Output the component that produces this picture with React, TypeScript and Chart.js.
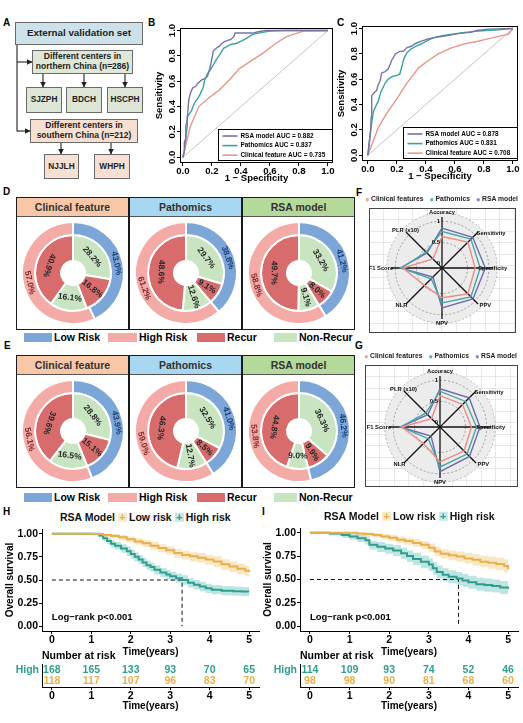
import React, { useEffect, useRef } from "react";
import { Chart, registerables } from "chart.js";

Chart.register(...registerables);

const FONT = "'Liberation Sans', Arial, Helvetica, sans-serif";
Chart.defaults.font.family = FONT;
Chart.defaults.color = "#000";

// ---------------- DATA ----------------
// ROC (1 - specificity, sensitivity)
const rocTicks = [0, 0.2, 0.4, 0.6, 0.8, 1.0];
const rocNames = ["RSA model", "Pathomics", "Clinical feature"];
const aucB = ["0.882", "0.837", "0.735"];
const aucC = ["0.878", "0.831", "0.708"];
const rocB_RSA = [[0,0],[0.01,0.05],[0.01,0.12],[0.02,0.15],[0.02,0.24],[0.03,0.3],[0.04,0.45],[0.05,0.5],[0.06,0.53],[0.07,0.55],[0.09,0.56],[0.1,0.58],[0.13,0.61],[0.15,0.62],[0.17,0.64],[0.18,0.68],[0.19,0.72],[0.2,0.78],[0.21,0.84],[0.23,0.86],[0.25,0.875],[0.27,0.9],[0.29,0.915],[0.33,0.93],[0.35,0.95],[0.36,0.98],[0.48,0.98],[0.52,0.99],[0.57,1.0],[1,1]];
const rocB_Path = [[0,0],[0.01,0.05],[0.02,0.15],[0.03,0.25],[0.03,0.32],[0.05,0.35],[0.06,0.37],[0.08,0.43],[0.1,0.46],[0.12,0.5],[0.14,0.55],[0.15,0.61],[0.17,0.66],[0.19,0.69],[0.21,0.73],[0.23,0.77],[0.26,0.82],[0.28,0.86],[0.33,0.89],[0.37,0.9],[0.41,0.92],[0.44,0.94],[0.48,0.97],[0.55,0.985],[0.6,0.995],[0.7,1.0],[1,1]];
const rocB_Clin = [[0,0],[0.05,0.24],[0.11,0.4],[0.18,0.47],[0.25,0.53],[0.32,0.61],[0.39,0.7],[0.47,0.76],[0.55,0.82],[0.63,0.89],[0.71,0.95],[0.83,0.995],[1,1]];
const rocC_RSA = [[0,0],[0.01,0.09],[0.02,0.2],[0.023,0.3],[0.027,0.47],[0.04,0.49],[0.06,0.51],[0.07,0.55],[0.085,0.59],[0.096,0.65],[0.12,0.66],[0.14,0.68],[0.155,0.72],[0.165,0.75],[0.19,0.8],[0.22,0.82],[0.245,0.82],[0.27,0.85],[0.3,0.86],[0.325,0.88],[0.37,0.9],[0.42,0.92],[0.47,0.93],[0.53,0.94],[0.62,0.96],[0.71,0.97],[0.75,0.985],[0.83,0.995],[1,1]];
const rocC_Path = [[0,0],[0.016,0.17],[0.03,0.28],[0.04,0.35],[0.06,0.4],[0.073,0.43],[0.09,0.5],[0.12,0.57],[0.14,0.6],[0.165,0.62],[0.2,0.63],[0.22,0.64],[0.235,0.7],[0.245,0.75],[0.26,0.79],[0.27,0.81],[0.3,0.84],[0.33,0.86],[0.37,0.88],[0.42,0.91],[0.46,0.93],[0.52,0.945],[0.58,0.955],[0.67,0.97],[0.76,0.98],[0.9,0.99],[1,1]];
const rocC_Clin = [[0,0],[0.073,0.22],[0.13,0.33],[0.19,0.43],[0.27,0.57],[0.35,0.69],[0.42,0.75],[0.485,0.8],[0.58,0.85],[0.67,0.88],[0.76,0.9],[0.87,0.93],[0.97,0.955],[1,1]];

// Doughnuts
const donutModels = ["Clinical feature", "Pathomics", "RSA model"];
const dRisk = [[43.0, 57.0], [38.8, 61.2], [41.2, 58.8]];
const dRecur = [[28.2, 16.8, 16.1, 40.9], [29.7, 9.1, 12.6, 48.6], [33.2, 8.0, 9.1, 49.7]];
const eRisk = [[43.9, 56.1], [41.0, 59.0], [46.2, 53.8]];
const eRecur = [[28.8, 15.1, 16.5, 39.6], [32.5, 8.5, 12.7, 46.3], [36.3, 9.9, 9.0, 44.8]];

// Radar
const radarAxes = ["Accuracy", "Sensitivity", "Specificity", "PPV", "NPV", "NLR", "F1 Score", "PLR (x10)"];
const radarSeries = ["Clinical features", "Pathomics", "RSA model"];
const fClin = [0.64, 0.76, 0.68, 0.76, 0.60, 0.48, 0.82, 0.20];
const fPath = [0.76, 0.86, 0.80, 0.86, 0.72, 0.26, 0.86, 0.43];
const fRSA = [0.84, 0.92, 0.92, 0.93, 0.84, 0.20, 0.88, 0.40];
const gClin = [0.64, 0.65, 0.64, 0.70, 0.72, 0.45, 0.80, 0.18];
const gPath = [0.74, 0.75, 0.76, 0.80, 0.84, 0.29, 0.82, 0.37];
const gRSA = [0.80, 0.87, 0.84, 0.88, 0.95, 0.20, 0.84, 0.31];

// Kaplan-Meier
const kmTicks = [0, 1, 2, 3, 4, 5];
const survTicks = [0, 0.25, 0.5, 0.75, 1.0];
const hHighT = [0, 1.2, 1.3, 1.4, 1.5, 1.6, 1.75, 1.9, 2.0, 2.1, 2.2, 2.3, 2.4, 2.5, 2.6, 2.75, 2.9, 3.0, 3.15, 3.3, 3.45, 3.6, 3.75, 3.9, 4.05, 4.3, 4.6, 4.8, 5.0];
const hHighS = [1.0, 0.98, 0.95, 0.92, 0.89, 0.87, 0.84, 0.81, 0.78, 0.75, 0.72, 0.69, 0.66, 0.64, 0.61, 0.58, 0.56, 0.54, 0.52, 0.50, 0.47, 0.45, 0.43, 0.41, 0.395, 0.385, 0.38, 0.375, 0.375];
const hHighLo = [1.0, 0.96, 0.92, 0.885, 0.85, 0.83, 0.795, 0.76, 0.73, 0.70, 0.67, 0.64, 0.61, 0.59, 0.56, 0.53, 0.51, 0.49, 0.47, 0.45, 0.42, 0.40, 0.38, 0.36, 0.345, 0.335, 0.33, 0.325, 0.32];
const hHighUp = [1.0, 0.995, 0.975, 0.955, 0.93, 0.91, 0.885, 0.86, 0.83, 0.80, 0.77, 0.74, 0.71, 0.69, 0.66, 0.63, 0.61, 0.59, 0.57, 0.55, 0.52, 0.50, 0.48, 0.46, 0.445, 0.435, 0.43, 0.425, 0.43];
const hLowT = [0, 1.0, 1.3, 1.5, 1.7, 1.9, 2.1, 2.3, 2.5, 2.7, 2.9, 3.1, 3.3, 3.5, 3.7, 3.9, 4.1, 4.3, 4.5, 4.7, 4.9, 5.0];
const hLowS = [1.0, 0.995, 0.985, 0.975, 0.96, 0.94, 0.915, 0.895, 0.87, 0.845, 0.82, 0.79, 0.77, 0.755, 0.74, 0.72, 0.70, 0.67, 0.645, 0.62, 0.60, 0.585];
const hLowLo = [1.0, 0.985, 0.965, 0.95, 0.93, 0.905, 0.88, 0.855, 0.83, 0.80, 0.775, 0.74, 0.72, 0.70, 0.685, 0.665, 0.64, 0.61, 0.585, 0.56, 0.54, 0.525];
const hLowUp = [1.0, 1.0, 1.0, 0.995, 0.985, 0.97, 0.95, 0.93, 0.91, 0.885, 0.86, 0.835, 0.815, 0.80, 0.79, 0.77, 0.755, 0.725, 0.70, 0.675, 0.655, 0.645];
const iHighT = [0, 0.5, 0.8, 1.0, 1.2, 1.4, 1.5, 1.7, 1.9, 2.1, 2.3, 2.45, 2.6, 2.8, 3.0, 3.1, 3.2, 3.35, 3.5, 3.7, 3.85, 4.0, 4.2, 4.4, 4.6, 4.8, 5.0];
const iHighS = [1.0, 0.99, 0.975, 0.96, 0.94, 0.92, 0.87, 0.85, 0.83, 0.81, 0.78, 0.75, 0.72, 0.69, 0.66, 0.62, 0.58, 0.55, 0.53, 0.51, 0.49, 0.47, 0.45, 0.44, 0.43, 0.415, 0.40];
const iHighLo = [1.0, 0.97, 0.945, 0.925, 0.9, 0.875, 0.82, 0.795, 0.775, 0.75, 0.715, 0.685, 0.655, 0.62, 0.59, 0.55, 0.51, 0.48, 0.46, 0.44, 0.42, 0.40, 0.38, 0.37, 0.36, 0.345, 0.33];
const iHighUp = [1.0, 1.0, 1.0, 0.99, 0.975, 0.96, 0.915, 0.9, 0.88, 0.865, 0.84, 0.81, 0.785, 0.755, 0.725, 0.69, 0.65, 0.62, 0.60, 0.58, 0.56, 0.54, 0.52, 0.51, 0.50, 0.485, 0.47];
const iLowT = [0, 1.2, 1.4, 1.6, 1.8, 2.0, 2.2, 2.4, 2.6, 2.8, 3.0, 3.15, 3.3, 3.5, 3.7, 3.9, 4.1, 4.3, 4.5, 4.7, 4.9, 5.0];
const iLowS = [1.0, 0.99, 0.985, 0.975, 0.96, 0.945, 0.925, 0.91, 0.89, 0.87, 0.84, 0.80, 0.775, 0.76, 0.745, 0.725, 0.71, 0.69, 0.68, 0.665, 0.645, 0.61];
const iLowLo = [1.0, 0.97, 0.96, 0.95, 0.93, 0.91, 0.89, 0.87, 0.85, 0.825, 0.795, 0.75, 0.725, 0.705, 0.69, 0.67, 0.65, 0.63, 0.615, 0.60, 0.575, 0.545];
const iLowUp = [1.0, 1.0, 1.0, 0.995, 0.985, 0.975, 0.96, 0.945, 0.93, 0.91, 0.885, 0.85, 0.825, 0.81, 0.80, 0.785, 0.77, 0.755, 0.745, 0.735, 0.715, 0.68];
const hMedian = 3.3;
const iMedian = 3.75;
const riskGroups = ["High", "Low"];
const hRiskHigh = [168, 165, 133, 93, 70, 65];
const hRiskLow = [118, 117, 107, 96, 83, 70];
const iRiskHigh = [114, 109, 93, 74, 52, 46];
const iRiskLow = [98, 98, 90, 81, 68, 60];

// ---------------- STYLE ----------------
const rocColors = ["#7674a6", "#3aa59a", "#e8968d"];
const C_LOW = "#7ca6d8";
const C_HIGH = "#f4aaa7";
const C_REC = "#d86c6c";
const C_NON = "#c8e4c1";
const headerColors = ["#f7c7a7", "#a7d7f1", "#b5d99b"];
const radarColors = ["#ef8a86", "#4aa6a0", "#6a6cae"];
const radarDots = ["#f4a09c", "#56b4a8", "#8586bd"];
const TEAL = "#2f9e8f";
const GOLD = "#e8b04d";

const noInteract = { responsive: false, animation: false as const, events: [] as any[] };

// ---------------- HELPERS ----------------
function Cvs({ left, top, width, height, make }: any) {
  const ref = useRef<HTMLCanvasElement | null>(null);
  useEffect(() => {
    const ch: Chart = make(ref.current as HTMLCanvasElement);
    return () => ch.destroy();
  }, []);
  return <canvas ref={ref} width={width} height={height} style={{ position: "absolute", left, top, width, height }} />;
}

function Txt({ x, y, size = 10, color = "#000", anchor = "start", bold = true, children }: any) {
  const tx = anchor === "middle" ? "-50%" : anchor === "end" ? "-100%" : "0";
  return (
    <div style={{ position: "absolute", left: x, top: y, transform: `translate(${tx}, -50%)`, fontSize: size, fontWeight: bold ? 700 : 400, color, lineHeight: 1, whiteSpace: "nowrap", fontFamily: FONT }}>
      {children}
    </div>
  );
}

function FBox({ l, t, w, h, bg, lines, size }: any) {
  return (
    <div style={{ position: "absolute", left: l, top: t, width: w, height: h, background: bg, border: "1px solid #6a6a6a", boxSizing: "border-box", display: "flex", flexDirection: "column", alignItems: "center", justifyContent: "center", fontFamily: FONT, fontWeight: 700, fontSize: size, lineHeight: 1.12, color: "#222", textAlign: "center", whiteSpace: "nowrap" }}>
      {lines.map((s: string, i: number) => <div key={i}>{s}</div>)}
    </div>
  );
}

// ---------------- ROC ----------------
const rocDecor = (aucs: string[]) => ({
  id: "rocDecor",
  afterDraw(chart: any) {
    const { ctx, chartArea: a } = chart;
    const ys = chart.scales.y;
    ctx.save();
    ctx.strokeStyle = "#000";
    ctx.lineWidth = 1;
    ctx.strokeRect(a.left + 0.5, a.top + 0.5, a.right - a.left - 1, a.bottom - a.top - 1);
    ctx.fillStyle = "#000";
    ctx.font = `bold 9.5px ${FONT}`;
    ctx.textAlign = "center";
    ctx.textBaseline = "middle";
    ys.ticks.forEach((t: any) => {
      ctx.save();
      ctx.translate(a.left - 8, ys.getPixelForValue(t.value));
      ctx.rotate(-Math.PI / 2);
      ctx.fillText(Number(t.value).toFixed(1), 0, 0);
      ctx.restore();
    });
    const w = 114, h = 31;
    const lx = Math.round(a.right - 1 - w) + 0.5;
    const ly = Math.round(a.bottom - 3 - h) + 0.5;
    ctx.fillStyle = "#fff";
    ctx.fillRect(lx, ly, w, h);
    ctx.strokeStyle = "#000";
    ctx.strokeRect(lx, ly, w, h);
    ctx.font = `bold 6.4px ${FONT}`;
    ctx.textAlign = "left";
    rocNames.forEach((n, i) => {
      const yy = ly + 6.5 + i * 9.6;
      ctx.strokeStyle = rocColors[i];
      ctx.lineWidth = 1.6;
      ctx.beginPath();
      ctx.moveTo(lx + 4, yy);
      ctx.lineTo(lx + 19, yy);
      ctx.stroke();
      ctx.fillStyle = "#000";
      ctx.fillText(`${n} AUC = ${aucs[i]}`, lx + 22, yy);
    });
    ctx.restore();
  },
});

function makeRoc(canvas: HTMLCanvasElement, curves: number[][][], aucs: string[], xMin: number, padRight: number) {
  return new Chart(canvas, {
    type: "line",
    data: {
      datasets: [
        ...curves.map((c, i) => ({
          data: c.map(([x, y]) => ({ x, y })),
          borderColor: rocColors[i],
          borderWidth: 1.4,
          pointRadius: 0,
          tension: 0,
          fill: false,
        })),
        { data: [{ x: 0, y: 0 }, { x: 1, y: 1 }], borderColor: "#c4c4c4", borderWidth: 1, pointRadius: 0, fill: false },
      ],
    },
    options: {
      ...noInteract,
      layout: { padding: { top: 8, right: padRight, left: 0, bottom: 0 } },
      plugins: { legend: { display: false }, tooltip: { enabled: false } },
      scales: {
        x: {
          type: "linear", min: xMin, max: 1.035,
          afterBuildTicks: (s: any) => { s.ticks = rocTicks.map((value) => ({ value })); },
          afterFit: (s: any) => { s.height = 29; },
          ticks: { font: { size: 9.6, weight: "bold" }, color: "#000", padding: 0, maxRotation: 0, autoSkip: false, callback: (v: any) => Number(v).toFixed(1) },
          grid: { drawOnChartArea: false, drawTicks: true, tickLength: 3, color: "#000" },
          border: { display: false },
          title: { display: true, text: "1 − Specificity", font: { size: 9.5, weight: "bold" }, color: "#000", padding: { top: 0, bottom: 8 } },
        },
        y: {
          type: "linear", min: -0.045, max: 1.02,
          afterBuildTicks: (s: any) => { s.ticks = rocTicks.map((value) => ({ value })); },
          afterFit: (s: any) => { s.width = 30; },
          ticks: { display: false },
          grid: { drawOnChartArea: false, drawTicks: true, tickLength: 3, color: "#000" },
          border: { display: false },
          title: { display: true, text: "Sensitivity", font: { size: 9.5, weight: "bold" }, color: "#000", padding: { top: 4, bottom: 0 } },
        },
      },
    } as any,
    plugins: [rocDecor(aucs)],
  } as any);
}

// ---------------- DOUGHNUT ----------------
const outerTextColors = ["#1b3c78", "#7d2a2a"];
const donutLabels = {
  id: "donutLabels",
  afterDatasetsDraw(chart: any) {
    const ctx = chart.ctx;
    ctx.save();
    ctx.font = `bold 8.5px ${FONT}`;
    ctx.textAlign = "center";
    ctx.textBaseline = "middle";
    chart.data.datasets.forEach((ds: any, di: number) => {
      const meta = chart.getDatasetMeta(di);
      meta.data.forEach((arc: any, i: number) => {
        const p = arc.getProps(["startAngle", "endAngle", "innerRadius", "outerRadius", "x", "y"], true);
        const mid = (p.startAngle + p.endAngle) / 2;
        const r = (p.innerRadius + p.outerRadius) / 2;
        const px = p.x + Math.cos(mid) * r;
        const py = p.y + Math.sin(mid) * r;
        let th = ((mid + Math.PI / 2) * 180) / Math.PI;
        th = ((th % 360) + 360) % 360;
        const rot = th <= 90 ? th : th <= 180 ? th - 90 : th - 180;
        ctx.save();
        ctx.translate(px, py);
        ctx.rotate((rot * Math.PI) / 180);
        ctx.fillStyle = di === 0 ? outerTextColors[i] : "#262626";
        ctx.fillText(`${Number(ds.data[i]).toFixed(1)}%`, 0, 0);
        ctx.restore();
      });
    });
    ctx.restore();
  },
};

function makeDonut(canvas: HTMLCanvasElement, risk: number[], recur: number[]) {
  return new Chart(canvas, {
    type: "doughnut",
    data: {
      labels: ["a", "b", "c", "d"],
      datasets: [
        { data: risk, backgroundColor: [C_LOW, C_HIGH], borderColor: "#fff", borderWidth: 2, weight: 13, hoverOffset: 0, offset: 0 },
        { data: recur, backgroundColor: [C_NON, C_REC, C_NON, C_REC], borderColor: "#fff", borderWidth: 2, weight: 26, hoverOffset: 0, offset: 0 },
      ],
    },
    options: {
      ...noInteract,
      cutout: 12,
      layout: { padding: 3 },
      plugins: { legend: { display: false }, tooltip: { enabled: false } },
    } as any,
    plugins: [donutLabels],
  } as any);
}

function DonutPanel({ top, risk, recur, legendY }: any) {
  const L = 16, W = 339, H = 133, HH = 19, CW = 113;
  const legend = [
    { c: C_LOW, t: "Low Risk", sx: 24, sw: 28 },
    { c: C_HIGH, t: "High Risk", sx: 108, sw: 29 },
    { c: C_REC, t: "Recur", sx: 197, sw: 28 },
    { c: C_NON, t: "Non-Recur", sx: 274, sw: 23 },
  ];
  return (
    <>
      {donutModels.map((m, i) => (
        <div key={m} style={{ position: "absolute", left: L + i * CW, top, width: CW, height: HH, background: headerColors[i], display: "flex", alignItems: "center", justifyContent: "center", fontFamily: FONT, fontWeight: 700, fontSize: 10.5, color: "#333" }}>
          {m}
        </div>
      ))}
      <div style={{ position: "absolute", left: L, top: top + HH, width: W, height: 1, background: "#555" }} />
      <div style={{ position: "absolute", left: L + CW - 0.75, top, width: 1.5, height: H, background: "#1a1a1a" }} />
      <div style={{ position: "absolute", left: L + 2 * CW - 0.75, top, width: 1.5, height: H, background: "#1a1a1a" }} />
      <div style={{ position: "absolute", left: L, top, width: W, height: H, border: "1.5px solid #1a1a1a", boxSizing: "border-box" }} />
      {donutModels.map((m, i) => {
        const cx = L + CW / 2 + i * CW;
        const cy = top + HH + (H - HH) / 2;
        return <Cvs key={m + "c"} left={cx - 55} top={cy - 55} width={110} height={110} make={(c: HTMLCanvasElement) => makeDonut(c, risk[i], recur[i])} />;
      })}
      {legend.map((g) => (
        <React.Fragment key={g.t}>
          <div style={{ position: "absolute", left: g.sx, top: legendY - 4.5, width: g.sw, height: 9, background: g.c }} />
          <Txt x={g.sx + g.sw + 2} y={legendY} size={10.5}>{g.t}</Txt>
        </React.Fragment>
      ))}
    </>
  );
}

// ---------------- RADAR ----------------
const radarLabelPos = [
  { v: 1.18, al: "center", dx: 0, dy: -1 },
  { v: 1.05, al: "left", dx: 0, dy: 0 },
  { v: 0.75, al: "left", dx: 0, dy: 0 },
  { v: 1.05, al: "left", dx: 3, dy: 3 },
  { v: 1.18, al: "center", dx: 0, dy: 1 },
  { v: 1.05, al: "right", dx: 0, dy: 3 },
  { v: 1.05, al: "right", dx: 0, dy: 0 },
  { v: 1.05, al: "center", dx: -2, dy: -3 },
];
const radarTickVals = [0, 0.5, 1];

const radarDecor = {
  id: "radarDecor",
  beforeDraw(chart: any) {
    const { ctx, width, height } = chart;
    const s = chart.scales.r;
    ctx.save();
    ctx.strokeStyle = "#dedede";
    ctx.lineWidth = 0.7;
    for (let x = 14; x < width; x += 14.5) { ctx.beginPath(); ctx.moveTo(Math.round(x) + 0.5, 0); ctx.lineTo(Math.round(x) + 0.5, height); ctx.stroke(); }
    for (let y = 11; y < height; y += 11.5) { ctx.beginPath(); ctx.moveTo(0, Math.round(y) + 0.5); ctx.lineTo(width, Math.round(y) + 0.5); ctx.stroke(); }
    ctx.strokeStyle = "#444";
    ctx.lineWidth = 1;
    ctx.strokeRect(0.5, 0.5, width - 1, height - 1);
    ctx.fillStyle = "#ececec";
    ctx.beginPath();
    ctx.arc(s.xCenter, s.yCenter, s.getDistanceFromCenterForValue(1.2), 0, Math.PI * 2);
    ctx.fill();
    ctx.strokeStyle = "#b5b5b5";
    ctx.setLineDash([2, 2]);
    ctx.stroke();
    ctx.setLineDash([]);
    ctx.fillStyle = "#fff";
    ctx.beginPath();
    ctx.arc(s.xCenter, s.yCenter, s.getDistanceFromCenterForValue(0) + 1, 0, Math.PI * 2);
    ctx.fill();
    ctx.restore();
  },
  afterDraw(chart: any) {
    const { ctx } = chart;
    const s = chart.scales.r;
    ctx.save();
    ctx.fillStyle = "#111";
    ctx.font = `bold 5.8px ${FONT}`;
    ctx.textBaseline = "middle";
    radarAxes.forEach((lab, i) => {
      const o = radarLabelPos[i];
      const p = s.getPointPosition(i, s.getDistanceFromCenterForValue(o.v));
      ctx.textAlign = o.al;
      ctx.fillText(lab, p.x + o.dx, p.y + o.dy);
    });
    ctx.font = `bold 6px ${FONT}`;
    ctx.textAlign = "right";
    radarTickVals.forEach((v) => {
      const p = s.getPointPosition(0, s.getDistanceFromCenterForValue(v));
      ctx.fillText(String(v), p.x - 2, p.y);
    });
    ctx.restore();
  },
};

function makeRadar(canvas: HTMLCanvasElement, series: number[][], pad: any) {
  return new Chart(canvas, {
    type: "radar",
    data: {
      labels: radarAxes,
      datasets: series.map((d, i) => ({ label: radarSeries[i], data: d, borderColor: radarColors[i], borderWidth: 1.4, pointRadius: 0, fill: false, backgroundColor: "transparent" })),
    },
    options: {
      ...noInteract,
      layout: { padding: pad },
      plugins: { legend: { display: false }, tooltip: { enabled: false } },
      scales: {
        r: {
          min: -0.1, max: 1.1,
          afterBuildTicks: (sc: any) => { sc.ticks = radarTickVals.map((value) => ({ value })); },
          ticks: { display: false },
          pointLabels: { display: false },
          grid: { circular: true, color: (c: any) => (c.tick && c.tick.value === 0 ? "rgba(0,0,0,0)" : "#8a8a8a"), lineWidth: 0.8 },
          border: { dash: [2, 2] },
          angleLines: { color: "#111", lineWidth: 1.3 },
        },
      },
    } as any,
    plugins: [radarDecor],
  } as any);
}

function RadarLegend({ x, y }: any) {
  return (
    <div style={{ position: "absolute", left: x, top: y, transform: "translateY(-50%)", display: "flex", alignItems: "center", fontFamily: FONT, fontWeight: 700, fontSize: 6.8, lineHeight: 1, whiteSpace: "nowrap", color: "#222" }}>
      {radarSeries.map((s, i) => (
        <span key={s} style={{ marginRight: i < 2 ? 6 : 0, display: "flex", alignItems: "center" }}>
          <span style={{ color: radarDots[i], fontSize: 7.5, marginRight: 1.5 }}>●</span>
          {s}
        </span>
      ))}
    </div>
  );
}

// ---------------- KAPLAN-MEIER ----------------
const pts = (t: number[], v: number[]) => t.map((x, i) => ({ x, y: v[i] }));

const kmText = {
  id: "kmText",
  afterDatasetsDraw(chart: any) {
    const { ctx, scales } = chart;
    ctx.save();
    ctx.font = `bold 9.5px ${FONT}`;
    ctx.fillStyle = "#000";
    ctx.textBaseline = "middle";
    ctx.textAlign = "left";
    ctx.fillText("Log−rank p<0.001", scales.x.getPixelForValue(0), scales.y.getPixelForValue(0.1));
    ctx.restore();
  },
};

function makeKM(canvas: HTMLCanvasElement, hi: any, lo: any, median: number, pad: any) {
  return new Chart(canvas, {
    type: "line",
    data: {
      datasets: [
        { data: pts(lo.t, lo.s), borderColor: GOLD, borderWidth: 2, pointRadius: 0, stepped: true, fill: false },
        { data: pts(hi.t, hi.s), borderColor: TEAL, borderWidth: 2, pointRadius: 0, stepped: true, fill: false },
        { data: [{ x: 0, y: 0.5 }, { x: median, y: 0.5 }, { x: median, y: 0 }], borderColor: "#111", borderWidth: 1, borderDash: [4, 3], pointRadius: 0, fill: false },
        { data: pts(lo.t, lo.up), borderWidth: 0, pointRadius: 0, stepped: true, fill: "+1", backgroundColor: "rgba(235,185,85,0.35)" },
        { data: pts(lo.t, lo.lo), borderWidth: 0, pointRadius: 0, stepped: true, fill: false },
        { data: pts(hi.t, hi.up), borderWidth: 0, pointRadius: 0, stepped: true, fill: "+1", backgroundColor: "rgba(70,180,168,0.35)" },
        { data: pts(hi.t, hi.lo), borderWidth: 0, pointRadius: 0, stepped: true, fill: false },
      ],
    },
    options: {
      ...noInteract,
      layout: { padding: pad },
      plugins: { legend: { display: false }, tooltip: { enabled: false } },
      scales: {
        x: {
          type: "linear", min: -0.25, max: 5.25,
          afterBuildTicks: (s: any) => { s.ticks = kmTicks.map((value) => ({ value })); },
          afterFit: (s: any) => { s.height = 31; },
          ticks: { font: { size: 10.5, weight: "bold" }, color: "#000", padding: 0, maxRotation: 0, autoSkip: false },
          grid: { drawOnChartArea: false, tickLength: 3, color: "#000" },
          border: { color: "#000", width: 1 },
          title: { display: true, text: "Time(years)", font: { size: 10, weight: "bold" }, color: "#000", padding: { top: 0, bottom: 4 } },
        },
        y: {
          type: "linear", min: -0.05, max: 1.05,
          afterBuildTicks: (s: any) => { s.ticks = survTicks.map((value) => ({ value })); },
          afterFit: (s: any) => { s.width = 42; },
          ticks: { font: { size: 10.5, weight: "bold" }, color: "#000", padding: 1, callback: (v: any) => Number(v).toFixed(2) },
          grid: { drawOnChartArea: false, tickLength: 3, color: "#000" },
          border: { color: "#000", width: 1 },
          title: { display: true, text: "Overall survival", font: { size: 10, weight: "bold" }, color: "#000", padding: { top: 4, bottom: 0 } },
        },
      },
    } as any,
    plugins: [kmText],
  } as any);
}

const riskNumbers = (high: number[], low: number[]) => ({
  id: "riskNumbers",
  afterDraw(chart: any) {
    const { ctx, scales } = chart;
    ctx.save();
    ctx.font = `bold 10.5px ${FONT}`;
    ctx.textAlign = "center";
    ctx.textBaseline = "middle";
    [high, low].forEach((row, ri) => {
      ctx.fillStyle = ri === 0 ? TEAL : GOLD;
      row.forEach((n, i) => ctx.fillText(String(n), scales.x.getPixelForValue(kmTicks[i]), scales.y.getPixelForValue(ri)));
    });
    ctx.restore();
  },
});

function makeRisk(canvas: HTMLCanvasElement, high: number[], low: number[], pad: any) {
  return new Chart(canvas, {
    type: "scatter",
    data: { datasets: [] },
    options: {
      ...noInteract,
      layout: { padding: pad },
      plugins: { legend: { display: false }, tooltip: { enabled: false } },
      scales: {
        x: {
          type: "linear", min: -0.25, max: 5.25,
          afterBuildTicks: (s: any) => { s.ticks = kmTicks.map((value) => ({ value })); },
          afterFit: (s: any) => { s.height = 29; },
          ticks: { font: { size: 10.5, weight: "bold" }, color: "#000", padding: 0, maxRotation: 0, autoSkip: false },
          grid: { drawOnChartArea: false, tickLength: 3, color: "#000" },
          border: { color: "#000", width: 1 },
          title: { display: true, text: "Time(years)", font: { size: 10, weight: "bold" }, color: "#000", padding: { top: 0, bottom: 4 } },
        },
        y: {
          type: "category", labels: riskGroups, offset: true,
          afterFit: (s: any) => { s.width = 42; },
          ticks: { font: { size: 10.5, weight: "bold" }, color: (c: any) => (c.index === 0 ? TEAL : GOLD), padding: 3 },
          grid: { display: false, drawTicks: false },
          border: { display: true, color: "#000", width: 1 },
        },
      },
    } as any,
    plugins: [riskNumbers(high, low)],
  } as any);
}

function KMLegend({ x, y }: any) {
  const key = (c: string, bg: string) => (
    <span style={{ display: "inline-flex", width: 9, height: 9, alignItems: "center", justifyContent: "center", background: bg, color: c, margin: "0 2px 0 3px", fontSize: 11 }}>+</span>
  );
  return (
    <div style={{ position: "absolute", left: x, top: y, transform: "translateY(-50%)", display: "flex", alignItems: "center", fontFamily: FONT, fontWeight: 700, fontSize: 10.5, lineHeight: 1, whiteSpace: "nowrap", color: "#111" }}>
      <span>RSA Model</span>
      {key(GOLD, "rgba(235,185,85,0.3)")}
      <span>Low risk</span>
      {key(TEAL, "rgba(70,180,168,0.3)")}
      <span>High risk</span>
    </div>
  );
}

// ---------------- APP ----------------
export default function App() {
  const arrow = { stroke: "#222", strokeWidth: 1.1, markerEnd: "url(#ah)" };
  return (
    <div style={{ position: "absolute", left: 0, top: 0, width: 523, height: 723, background: "#fff", overflow: "hidden", fontFamily: FONT }}>
      {/* Panel letters */}
      <Txt x={3} y={22.5} size={10}>A</Txt>
      <Txt x={148} y={22.5} size={10}>B</Txt>
      <Txt x={337} y={22.5} size={10}>C</Txt>
      <Txt x={3} y={192} size={10}>D</Txt>
      <Txt x={4} y={346} size={10}>E</Txt>
      <Txt x={356} y={193} size={10}>F</Txt>
      <Txt x={355} y={346} size={10}>G</Txt>
      <Txt x={3} y={512} size={10}>H</Txt>
      <Txt x={262} y={512} size={10}>I</Txt>

      {/* Panel A flowchart */}
      <svg style={{ position: "absolute", left: 0, top: 0 }} width={160} height={190}>
        <defs>
          <marker id="ah" markerUnits="userSpaceOnUse" markerWidth="6" markerHeight="6" refX="5.5" refY="3" orient="auto">
            <path d="M0,0 L6,3 L0,6 z" fill="#222" />
          </marker>
        </defs>
        <line x1={17} y1={45} x2={17} y2={131.5} stroke="#222" strokeWidth={1.1} />
        <line x1={17} y1={62} x2={32} y2={62} {...arrow} />
        <line x1={17} y1={131} x2={30} y2={131} {...arrow} />
        <line x1={43} y1={74} x2={43} y2={87} {...arrow} />
        <line x1={84} y1={74} x2={84} y2={87} {...arrow} />
        <line x1={125} y1={74} x2={125} y2={87} {...arrow} />
        <line x1={61} y1={143} x2={61} y2={154} {...arrow} />
        <line x1={111} y1={143} x2={111} y2={154} {...arrow} />
      </svg>
      <FBox l={15} t={22} w={128} h={23} bg="#cde1ea" size={9.8} lines={["External validation set"]} />
      <FBox l={32} t={50} w={101} h={24} bg="#dfe7d6" size={8.5} lines={["Different centers in", "northern China (n=286)"]} />
      <FBox l={26} t={87} w={36} h={26} bg="#dde5d7" size={8.3} lines={["SJZPH"]} />
      <FBox l={66} t={87} w={36} h={26} bg="#dde5d7" size={8.3} lines={["BDCH"]} />
      <FBox l={107} t={87} w={36} h={26} bg="#dde5d7" size={8.3} lines={["HSCPH"]} />
      <FBox l={30} t={119} w={108} h={24} bg="#f7dfd1" size={8.5} lines={["Different centers in", "southern China (n=212)"]} />
      <FBox l={44} t={154} w={35} h={25} bg="#f7dfd1" size={8.3} lines={["NJJLH"]} />
      <FBox l={94} t={154} w={36} h={25} bg="#f7dfd1" size={8.3} lines={["WHPH"]} />

      {/* Panels B, C: ROC */}
      <Cvs left={150} top={20} width={190} height={172} make={(c: HTMLCanvasElement) => makeRoc(c, [rocB_RSA, rocB_Path, rocB_Clin], aucB, -0.02, 7)} />
      <Cvs left={332} top={18} width={190} height={172} make={(c: HTMLCanvasElement) => makeRoc(c, [rocC_RSA, rocC_Path, rocC_Clin], aucC, -0.04, 4)} />

      {/* Panels D, E: doughnuts */}
      <DonutPanel top={197} risk={dRisk} recur={dRecur} legendY={337} />
      <DonutPanel top={355} risk={eRisk} recur={eRecur} legendY={497} />

      {/* Panels F, G: radar */}
      <RadarLegend x={365} y={200} />
      <Cvs left={369} top={208} width={147} height={125} make={(c: HTMLCanvasElement) => makeRadar(c, [fClin, fPath, fRSA], { left: 21.7, right: 22.7, top: 8.7, bottom: 13.7 })} />
      <RadarLegend x={364} y={357} />
      <Cvs left={365} top={365} width={153} height={122} make={(c: HTMLCanvasElement) => makeRadar(c, [gClin, gPath, gRSA], { left: 23.7, right: 26.7, top: 10.7, bottom: 8.7 })} />

      {/* Panels H, I: KM */}
      <KMLegend x={60} y={517} />
      <Cvs left={0} top={510} width={262} height={152} make={(c: HTMLCanvasElement) => makeKM(c, { t: hHighT, s: hHighS, lo: hHighLo, up: hHighUp }, { t: hLowT, s: hLowS, lo: hLowLo, up: hLowUp }, hMedian, { top: 19, right: 3, left: 0, bottom: 0 })} />
      <Txt x={42} y={655} size={10.5}>Number at risk</Txt>
      <Cvs left={0} top={655} width={262} height={61} make={(c: HTMLCanvasElement) => makeRisk(c, hRiskHigh, hRiskLow, { top: 6, right: 3, left: 0, bottom: 0 })} />

      <KMLegend x={324} y={516} />
      <Cvs left={258} top={510} width={262} height={152} make={(c: HTMLCanvasElement) => makeKM(c, { t: iHighT, s: iHighS, lo: iHighLo, up: iHighUp }, { t: iLowT, s: iLowS, lo: iLowLo, up: iLowUp }, iMedian, { top: 18, right: 2, left: 0, bottom: 0 })} />
      <Txt x={300} y={655} size={10.5}>Number at risk</Txt>
      <Cvs left={258} top={655} width={262} height={61} make={(c: HTMLCanvasElement) => makeRisk(c, iRiskHigh, iRiskLow, { top: 6, right: 2, left: 0, bottom: 0 })} />
    </div>
  );
}
